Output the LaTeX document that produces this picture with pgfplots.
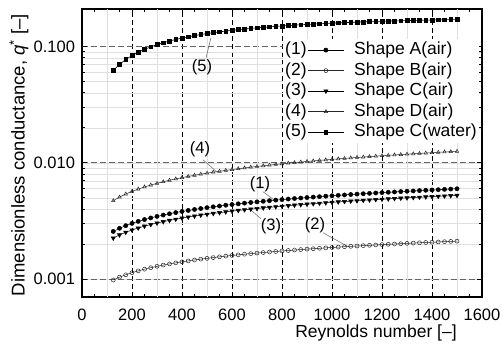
\documentclass[border=0pt]{standalone}
\usepackage{fontspec}
\setmainfont{Liberation Sans}
\usepackage{pgfplots}
\usepackage{pgfplotstable}
\pgfplotsset{compat=1.18}
\pgfplotstableread{
x c1 c2 c3 c4 c5
125 0.002564 0.000980 0.002249 0.004710 0.06223
150 0.002728 0.001036 0.002393 0.005061 0.07016
175 0.002875 0.001087 0.002522 0.005378 0.07721
200 0.003008 0.001133 0.002639 0.005668 0.08353
225 0.003131 0.001175 0.002746 0.005937 0.08925
250 0.003245 0.001214 0.002847 0.006189 0.09446
275 0.003352 0.001251 0.002941 0.006426 0.09921
300 0.003453 0.001285 0.003029 0.006650 0.10358
325 0.003548 0.001317 0.003112 0.006863 0.10762
350 0.003639 0.001348 0.003192 0.007066 0.11135
375 0.003725 0.001377 0.003267 0.007261 0.11482
400 0.003808 0.001405 0.003340 0.007448 0.11805
425 0.003887 0.001431 0.003409 0.007628 0.12107
450 0.003963 0.001457 0.003476 0.007802 0.12390
475 0.004037 0.001482 0.003541 0.007970 0.12655
500 0.004108 0.001505 0.003603 0.008132 0.12904
525 0.004177 0.001528 0.003663 0.008290 0.13138
550 0.004243 0.001551 0.003722 0.008444 0.13358
575 0.004308 0.001572 0.003779 0.008593 0.13567
600 0.004371 0.001593 0.003834 0.008738 0.13764
625 0.004432 0.001613 0.003887 0.008880 0.13951
650 0.004491 0.001633 0.003939 0.009018 0.14127
675 0.004549 0.001652 0.003990 0.009153 0.14295
700 0.004606 0.001671 0.004040 0.009285 0.14454
725 0.004661 0.001689 0.004088 0.009415 0.14605
750 0.004715 0.001707 0.004136 0.009541 0.14749
775 0.004768 0.001724 0.004182 0.009665 0.14886
800 0.004820 0.001741 0.004227 0.009787 0.15016
825 0.004870 0.001758 0.004272 0.009907 0.15140
850 0.004920 0.001775 0.004315 0.010023 0.15258
875 0.004969 0.001791 0.004358 0.010139 0.15371
900 0.005016 0.001806 0.004400 0.010252 0.15479
925 0.005063 0.001822 0.004441 0.010363 0.15582
950 0.005110 0.001837 0.004482 0.010473 0.15680
975 0.005155 0.001852 0.004521 0.010580 0.15775
1000 0.005199 0.001866 0.004561 0.010687 0.15865
1025 0.005243 0.001881 0.004599 0.010791 0.15951
1050 0.005286 0.001895 0.004637 0.010894 0.16034
1075 0.005329 0.001909 0.004674 0.010995 0.16113
1100 0.005371 0.001922 0.004711 0.011095 0.16189
1125 0.005412 0.001936 0.004747 0.011194 0.16261
1150 0.005452 0.001949 0.004783 0.011291 0.16331
1175 0.005492 0.001962 0.004818 0.011387 0.16397
1200 0.005532 0.001975 0.004852 0.011483 0.16461
1225 0.005571 0.001987 0.004886 0.011576 0.16522
1250 0.005609 0.002000 0.004920 0.011669 0.16581
1275 0.005647 0.002012 0.004953 0.011760 0.16637
1300 0.005684 0.002024 0.004986 0.011850 0.16691
1325 0.005721 0.002036 0.005018 0.011939 0.16743
1350 0.005758 0.002048 0.005051 0.012028 0.16793
1375 0.005794 0.002060 0.005082 0.012115 0.16841
1400 0.005830 0.002071 0.005113 0.012201 0.16886
1425 0.005865 0.002083 0.005144 0.012287 0.16930
1450 0.005900 0.002094 0.005175 0.012371 0.16972
1475 0.005934 0.002105 0.005205 0.012455 0.17012
1500 0.005968 0.002116 0.005235 0.012538 0.17051
}\datatab
\pgfplotsset{
  sA/.style={black, line width=0.5pt, mark=*, mark size=2.1pt, mark options={solid, fill=black}},
  sB/.style={black!85, line width=0.5pt, mark=o, mark size=2.0pt, mark options={solid, line width=0.5pt}},
  sC/.style={black, line width=0.5pt, mark=triangle*, mark size=2.4pt, mark options={solid, fill=black, rotate=180}},
  sD/.style={black!85, line width=0.5pt, mark=triangle, mark size=2.0pt, mark options={solid, line width=0.5pt}},
  sE/.style={black, line width=0.6pt, mark=square*, mark size=1.9pt, mark options={solid, fill=black}},
}
\begin{document}
\begin{tikzpicture}
\useasboundingbox (-82pt,-47pt) rectangle (421pt,297pt);
\begin{axis}[
  scale only axis, width=400pt, height=288pt,
  xmin=0, xmax=1600, ymin=0.0007, ymax=0.21,
  ymode=log,
  /pgf/number format/assume math mode=true,
  /pgf/number format/1000 sep={},
  xtick={0,200,...,1600},
  minor x tick num=3,
  ytick={0.001,0.01,0.1},
  yticklabels={0.001,0.010,0.100},
  tick align=inside,
  major tick length=5pt, minor tick length=3pt,
  every tick/.style={black, line width=0.6pt},
  axis line style={black, line width=1.2pt},
  xmajorgrids, ymajorgrids, yminorgrids,
  major x grid style={black, line width=0.6pt, dash pattern=on 5pt off 3pt},
  major y grid style={black!60, line width=0.7pt, dash pattern=on 6pt off 3pt},
  minor y grid style={black!12, line width=0.4pt},
  extra x ticks={100,300,...,1500},
  extra x tick labels={},
  extra x tick style={grid=major, major x grid style={black!12, solid, line width=0.4pt}, major tick length=0pt},
  tick label style={font=\fontsize{16.5}{18}\selectfont},
  xticklabel style={anchor=base, yshift=-23pt},
  yticklabel style={xshift=-3.5pt},
  xlabel={Reynolds number [–]},
  xlabel style={at={(axis description cs:0.735,0)}, anchor=base, yshift=-40.5pt, font=\fontsize{17.5}{20}\selectfont},
  ylabel={Dimensionless conductance, \textit{q}\textsuperscript{*} [–]},
  ylabel style={at={(axis description cs:-0.1575,0.493)}, anchor=center, font=\fontsize{18.5}{20}\selectfont},
  legend columns=2,
  legend cell align=left,
  legend image code/.code={\draw[mark repeat=2,mark phase=2,#1] plot coordinates {(0pt,0pt) (18pt,0pt) (36pt,0pt)};},
  legend style={at={(axis description cs:0.5025,0.897)}, anchor=north west, draw=none, fill=white, inner sep=1pt,
    font=\fontsize{17.5}{20}\selectfont,
    nodes={inner xsep=1pt, inner ysep=1.75pt, text height=13pt, text depth=4pt}},
]
\addplot[sA, forget plot] table[x=x, y=c1] {\datatab};
\addplot[sB, forget plot] table[x=x, y=c2] {\datatab};
\addplot[sC, forget plot] table[x=x, y=c3] {\datatab};
\addplot[sD, forget plot] table[x=x, y=c4] {\datatab};
\addplot[sE, forget plot] table[x=x, y=c5] {\datatab};
\addlegendimage{empty legend}\addlegendentry{(1)}
\addlegendimage{sA}\addlegendentry{\hspace{9pt}Shape A(air)}
\addlegendimage{empty legend}\addlegendentry{(2)}
\addlegendimage{sB}\addlegendentry{\hspace{9pt}Shape B(air)}
\addlegendimage{empty legend}\addlegendentry{(3)}
\addlegendimage{sC}\addlegendentry{\hspace{9pt}Shape C(air)}
\addlegendimage{empty legend}\addlegendentry{(4)}
\addlegendimage{sD}\addlegendentry{\hspace{9pt}Shape D(air)}
\addlegendimage{empty legend}\addlegendentry{(5)}
\addlegendimage{sE}\addlegendentry{\hspace{9pt}Shape C(water)}
\begin{scope}[every node/.style={font=\fontsize{16.5}{18}\selectfont, inner sep=0pt}]
\node at (axis cs:480,0.0669) {(5)};
\node at (axis cs:472,0.01319) {(4)};
\node at (axis cs:712,0.00647) {(1)};
\node at (axis cs:756,0.002816) {(3)};
\node at (axis cs:932,0.002872) {(2)};
\end{scope}
\begin{scope}[black!60, line width=0.5pt]
\draw (axis cs:496,0.0799) -- (axis cs:516,0.1188);
\draw (axis cs:484,0.01061) -- (axis cs:540,0.0083);
\draw (axis cs:724,0.00563) -- (axis cs:768,0.00478);
\draw (axis cs:716,0.0033) -- (axis cs:672,0.00398);
\draw (axis cs:964,0.0025) -- (axis cs:1064,0.0019);
\end{scope}
\end{axis}
\end{tikzpicture}
\end{document}
